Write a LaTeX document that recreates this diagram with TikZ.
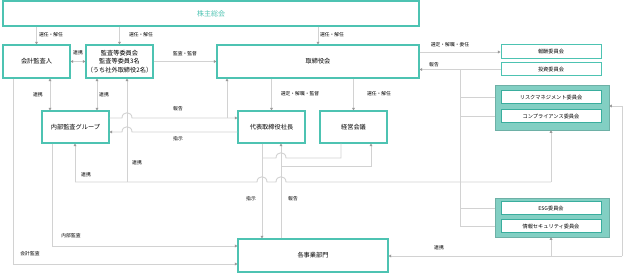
\documentclass[tikz,border=0pt]{standalone}
\usepackage{fontspec}
\setmainfont{Noto Sans CJK JP}
\usetikzlibrary{arrows.meta}
\definecolor{tealline}{HTML}{4DC3B2}
\definecolor{tealfill}{HTML}{82CFC3}
\definecolor{tealdark}{HTML}{3AAE9E}
\definecolor{lncol}{HTML}{D2D2D2}
\definecolor{tipcol}{HTML}{9A9A9A}
\tikzset{
  box/.style={draw=tealline, line width=1.1pt, fill=white, inner sep=0pt, align=center,
    font=\fontsize{6.2}{8.5}\selectfont},
  cbox/.style={draw=tealdark, line width=1pt, fill=white, inner sep=0pt,
    minimum width=100pt, minimum height=13pt, font=\fontsize{5.2}{6}\selectfont},
  grp/.style={fill=tealfill, draw=tealfill!85!black, line width=0.4pt, minimum width=114pt},
  ln/.style={draw=lncol, line width=0.9pt},
  arr/.style={ln, -{Triangle[length=2.6pt,width=2.8pt,color=tipcol]}},
  darr/.style={ln, {Triangle[length=2.6pt,width=2.8pt,color=tipcol]}-{Triangle[length=2.6pt,width=2.8pt,color=tipcol]}},
  lbl/.style={font=\fontsize{4.8}{5}\selectfont, inner sep=0pt},
}
\begin{document}
\begin{tikzpicture}[x=1pt,y=-1pt]
\useasboundingbox (0,0) rectangle (624,275);

% groups (behind)
\node[grp, minimum height=45pt] (g1) at (552,107.5) {};
\node[grp, minimum height=39pt] (g2) at (552,217.5) {};

% committee bus lines (drawn before boxes)
\draw[ln] (460,69.5) -- (460,226.5);
\draw[ln] (460,97.5) -- (g1.west |- 0,97.5);
\draw[ln] (460,116.5) -- (g1.west |- 0,116.5);
\draw[ln] (460,208.5) -- (g2.west |- 0,208.5);
\draw[ln] (460,226.5) -- (g2.west |- 0,226.5);

% main nodes
\node[box, minimum width=416pt, minimum height=25pt, text=tealline, font=\fontsize{7}{8}\selectfont] (kabu) at (211,13.5) {株主総会};
\node[box, minimum width=67pt, minimum height=33pt] (kaikei) at (36.5,61.5) {会計監査人};
\node[box, minimum width=67pt, minimum height=33pt] (kansa) at (119.5,61.5) {監査等委員会\\監査等委員3名\\（うち社外取締役2名）};
\node[box, minimum width=202pt, minimum height=33pt] (tori) at (318,61.5) {取締役会};
\node[cbox, minimum height=14pt, draw=tealline] (hoshu) at (551,52) {報酬委員会};
\node[cbox, draw=tealline] (toshi) at (551,69.5) {投資委員会};
\node[cbox] (risk) at (551,97.5) {リスクマネジメント委員会};
\node[cbox] (comp) at (551,116.5) {コンプライアンス委員会};
\node[cbox] (esg) at (551,208.5) {ESG委員会};
\node[cbox] (info) at (551,226.5) {情報セキュリティ委員会};
\node[box, minimum width=67pt, minimum height=32pt] (naibu) at (75.5,127) {内部監査グループ};
\node[box, minimum width=67pt, minimum height=32pt] (ceo) at (271.5,127) {代表取締役社長};
\node[box, minimum width=67pt, minimum height=32pt] (keiei) at (353.5,127) {経営会議};
\node[box, minimum width=150pt, minimum height=33pt] (jigyo) at (313,255.5) {各事業部門};

% shareholders
\draw[arr] (kabu.south -| kaikei.north) -- (kaikei.north);
\draw[arr] (kabu.south -| kansa.north) -- (kansa.north);
\draw[arr] (kabu.south -| tori.north) -- (tori.north);
\node[lbl] at (51,35) {選任・解任};
\node[lbl] at (141,35) {選任・解任};
\node[lbl] at (332,35) {選任・解任};

% top row
\draw[darr] (kaikei.east) -- (kansa.west);
\node[lbl] at (78,53) {連携};
\draw[arr] (kansa.east) -- (tori.west);
\node[lbl] at (185,54) {監査・監督};
\draw[arr] (tori.east |- hoshu.west) -- (hoshu.west);
\node[lbl] at (450,45) {選定・解職・委任};
\draw[arr] (toshi.west) -- (tori.east |- toshi.west);
\node[lbl] at (434,65) {報告};

% board down
\draw[arr] (tori.south -| ceo.north) -- (ceo.north);
\node[lbl] at (300,94) {選定・解職・監督};
\draw[arr] (tori.south -| keiei.north) -- (keiei.north);
\node[lbl] at (379,94) {選任・解任};

% audit links
\draw[darr] (kaikei.south -| 50,0) -- (naibu.north -| 50,0);
\node[lbl] at (38,95) {連携};
\draw[darr] (kansa.south -| 97,0) -- (naibu.north -| 97,0);
\node[lbl] at (104,95) {連携};

% report / instruct between naibu and ceo
\draw[arr] (naibu.east |- 0,118) -- (122,118) .. controls (122,111) and (132,111) .. (132,118) -- (ceo.west |- 0,118);
\draw[arr] (227,118) -- (tori.south -| 227,0);
\node[lbl] at (178,109) {報告};
\draw[arr] (ceo.west |- 0,132) -- (132,132) .. controls (132,125) and (122,125) .. (122,132) -- (naibu.east |- 0,132);
\node[lbl] at (178,139) {指示};

% collaboration bus y=182
\draw[arr] (127,182) -- (kansa.south -| 127,0);
\node[lbl] at (137,163) {連携};
\draw[ln] (75,182) -- (257,182) .. controls (257,175) and (267,175) .. (267,182) -- (276,182) .. controls (276,175) and (286,175) .. (286,182) -- (551,182);
\draw[arr] (75,182) -- (naibu.south -| 75,0);
\draw[arr] (551,182) -- (g1.south -| 551,0);
\node[lbl] at (86,175) {連携};

% ceo / keiei -> jigyo
\draw[arr] (ceo.south -| 262,0) -- (jigyo.north -| 262,0);
\draw[ln] (keiei.south -| 341,0) -- (341,158) -- (286,158) .. controls (286,151) and (276,151) .. (276,158) -- (262,158);
\node[lbl] at (251,199) {指示};
\draw[arr] (jigyo.north -| 281,0) -- (ceo.south -| 281,0);
\draw[arr] (281,166) -- (371,166) -- (keiei.south -| 371,0);
\node[lbl] at (293,199) {報告};

% audits to jigyo
\draw[arr] (naibu.south -| 52,0) -- (52,246) -- (jigyo.west |- 0,246);
\node[lbl] at (71,236) {内部監査};
\draw[arr] (kaikei.south -| 13,0) -- (13,264) -- (jigyo.west |- 0,264);
\node[lbl] at (30,254) {会計監査};

% right collaboration
\draw[arr] (622,256) -- (jigyo.east |- 0,256);
\draw[arr] (622,256) -- (622,106) -- (g1.east |- 0,106);
\draw[arr] (551,256) -- (g2.south -| 551,0);
\node[lbl] at (439,248) {連携};
\end{tikzpicture}
\end{document}
